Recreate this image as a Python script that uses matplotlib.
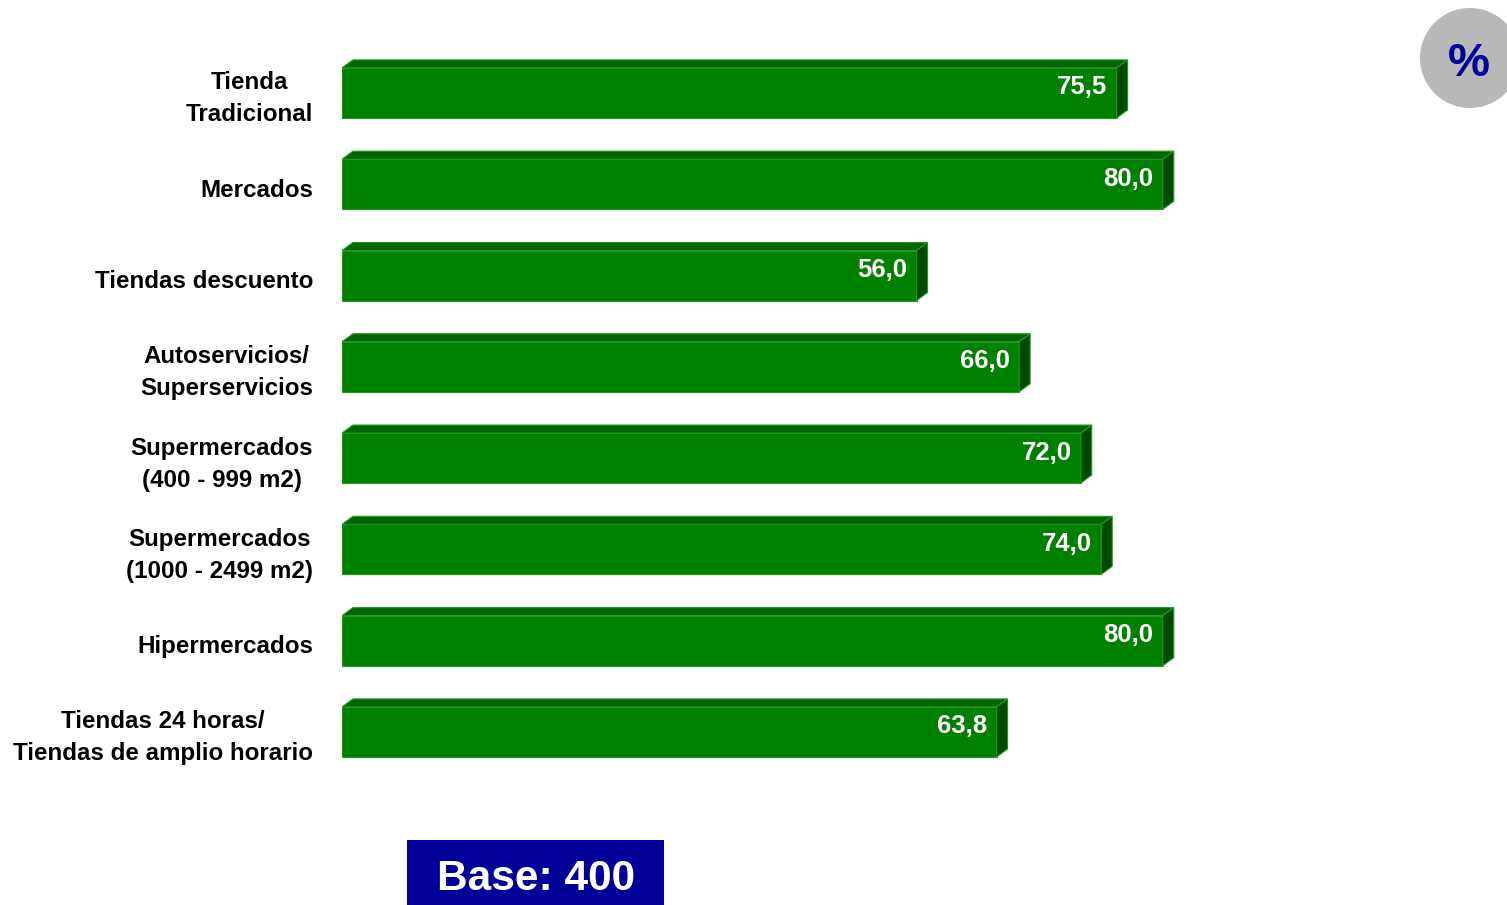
import matplotlib.pyplot as plt
from matplotlib.patches import Polygon, Rectangle, Ellipse

categories = ["Tienda\nTradicional", "Mercados", "Tiendas descuento",
              "Autoservicios/\nSuperservicios", "Supermercados\n(400 - 999 m2)",
              "Supermercados\n(1000 - 2499 m2)", "Hipermercados",
              "Tiendas 24 horas/\nTiendas de amplio horario"]
values = [75.5, 80.0, 56.0, 66.0, 72.0, 74.0, 80.0, 63.8]
base_text = "Base: 400"

plt.rcParams['font.family'] = ['Liberation Sans', 'DejaVu Sans']

W, H = 1507, 905
fig = plt.figure(figsize=(W / 100, H / 100), dpi=100)
# axes: x 0..100 -> px 342..1368, rows centred at 93 .. 732 px
ax = fig.add_axes([342 / W, 1 - 777.6 / H, 1026 / W, 730.3 / H])
ax.set_xlim(0, 100)
ax.set_ylim(7.5, -0.5)
ax.axis('off')

front = '#008000'
top = '#006400'
side = '#004a00'
edge = '#1f9a1f'
h = 0.274
dx, dy = 1.07, 0.088

for i, (cat, v) in enumerate(zip(categories, values)):
    ax.barh(i, v, height=2 * h, color=front, edgecolor=edge, linewidth=0.8, zorder=2)
    ax.add_patch(Polygon([(0, i - h), (dx, i - h - dy), (v + dx, i - h - dy), (v, i - h)],
                         closed=True, facecolor=top, edgecolor=edge, linewidth=0.8, zorder=2))
    ax.add_patch(Polygon([(v, i - h), (v + dx, i - h - dy), (v + dx, i + h - dy), (v, i + h)],
                         closed=True, facecolor=side, edgecolor=edge, linewidth=0.8, zorder=2))
    ax.text(v - 0.9, i - 0.06, f"{v:.1f}".replace('.', ','), ha='right', va='center',
            color='white', fontsize=18.5, fontweight='bold', zorder=3)
    ax.text(-2.8, i + 0.065, cat, ha='right', va='center', multialignment='center',
            fontsize=17.4, fontweight='bold', color='black', linespacing=1.5)

# percent badge
fig.patches.append(Ellipse((1470 / W, 1 - 58 / H), 100 / W, 100 / H,
                           transform=fig.transFigure, facecolor='#b8b8b8', edgecolor='none'))
fig.text(1469 / W, 1 - 64 / H, "%", ha='center', va='center', color='#000099',
         fontsize=34, fontweight='bold')

# base box
fig.patches.append(Rectangle((407 / W, 0), 257 / W, 65 / H, transform=fig.transFigure,
                             facecolor='#000099', edgecolor='none'))
fig.text(536 / W, 1 - 879 / H, base_text, ha='center', va='center', color='white',
         fontsize=30.5, fontweight='bold')

fig.savefig('out.png', dpi=100)
